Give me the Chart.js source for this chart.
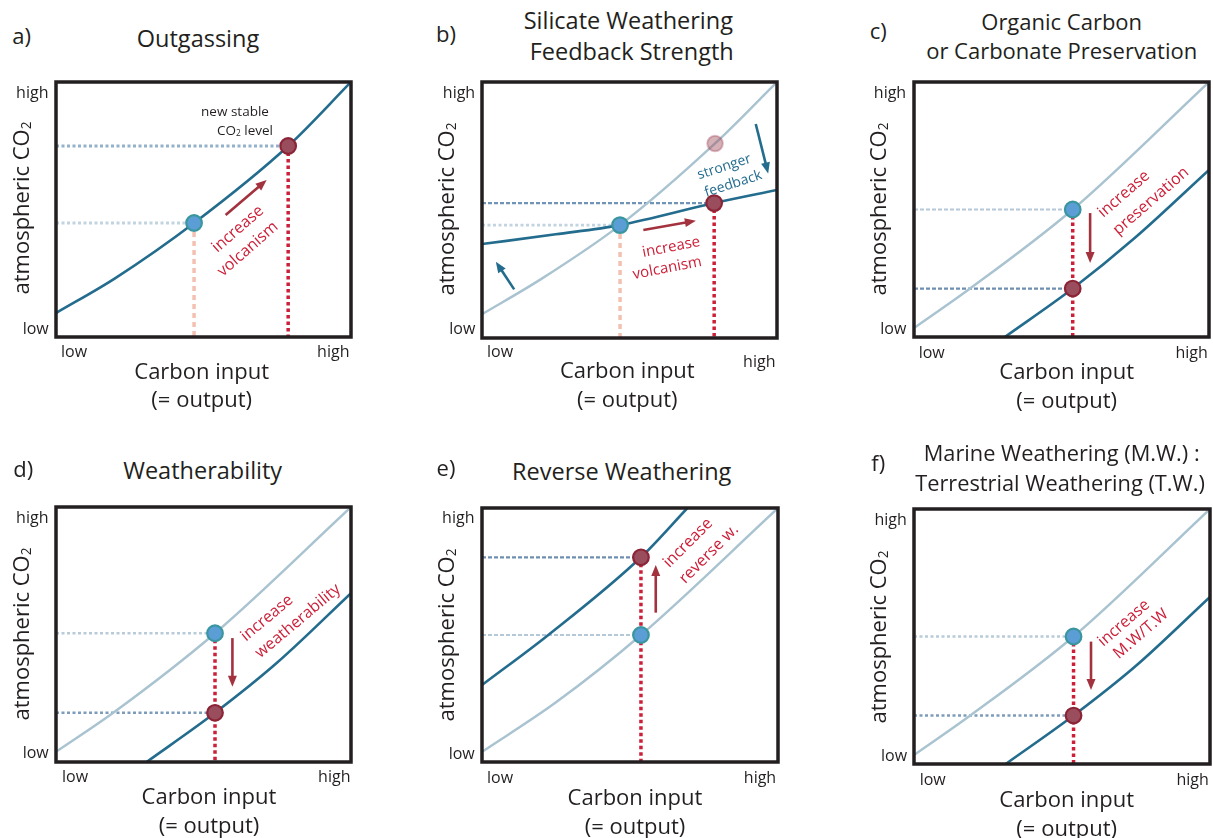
<!DOCTYPE html>
<html><head><meta charset="utf-8">
<script src="https://cdn.jsdelivr.net/npm/chart.js@4.4.1/dist/chart.umd.min.js"></script>
<style>
body{margin:0;background:#fff;width:1213px;height:838px;position:relative;overflow:hidden;font-family:"Open Sans",sans-serif;color:#231f20}
canvas{position:absolute}
.t{position:absolute;transform:translate(-50%,-50%);white-space:nowrap;line-height:1}
.s{font-size:.62em;vertical-align:-0.12em}
</style></head><body>
<script>
// ---- data (normalised: 0 = low, 1 = high) ----
const aCurve = [[0,0.094],[0.2,0.23],[0.468,0.447],[0.787,0.749],[1,1]];
const aStart = [0.468,0.447];
const aEnd   = [0.787,0.749];
const aArrows = [[0.575,0.478,0.714,0.616]];

const bOld = [[0,0.093],[0.2,0.23],[0.468,0.441],[0.79,0.76],[1,1]];
const bNew = [[0,0.367],[0.25,0.405],[0.468,0.441],[0.787,0.527],[1,0.578]];
const bStart = [0.468,0.441];
const bEnd   = [0.787,0.527];
const bGhost = [0.79,0.76];
const bArrows = [[0.547,0.422,0.725,0.458]];
const bFeedbackArrows = [[0.928,0.836,0.970,0.643],[0.109,0.190,0.047,0.298]];

const cOld = [[0,0.035],[0.19,0.19],[0.538,0.5],[1,1]];
const cNew = [[0.308,0],[0.538,0.19],[0.75,0.39],[1,0.655]];
const cStart = [0.538,0.5];
const cEnd   = [0.538,0.19];
const cArrows = [[0.597,0.486,0.597,0.29]];

const dOld = [[0,0.04],[0.194,0.193],[0.539,0.505],[1,1]];
const dNew = [[0.307,0],[0.539,0.193],[0.75,0.39],[1,0.662]];
const dStart = [0.539,0.505];
const dEnd   = [0.539,0.193];
const dArrows = [[0.598,0.486,0.598,0.295]];

const eOld = [[0,0.04],[0.25,0.235],[0.537,0.5],[1,1]];
const eNew = [[0,0.303],[0.224,0.5],[0.537,0.806],[0.694,1]];
const eStart = [0.537,0.5];
const eEnd   = [0.537,0.806];
const eArrows = [[0.587,0.588,0.587,0.776]];

const fOld = [[0,0.035],[0.19,0.19],[0.539,0.5],[1,1]];
const fNew = [[0.31,0],[0.539,0.19],[0.75,0.385],[1,0.655]];
const fStart = [0.539,0.5];
const fEnd   = [0.539,0.19];
const fArrows = [[0.598,0.48,0.598,0.29]];

// ---- styles ----
const DARK='#236c8e', LIGHT='#a9c3d0', RED='#cc1f38', SALMON='#f3c1b1', ARROW='#a3323f';
const BLUEPT={bg:'#5b9dd5',bd:'#3a969e'}, REDPT={bg:'#9a4d5c',bd:'#8b2436'};

const P = a => a.map(([x,y])=>({x,y}));
function curve(pts,color,w){return {data:P(pts),borderColor:color,borderWidth:w||2.6,showLine:true,pointRadius:0,cubicInterpolationMode:'monotone',order:5};}
function seg(x1,y1,x2,y2,color,w,dash){return {data:[{x:x1,y:y1},{x:x2,y:y2}],borderColor:color,borderWidth:w,borderDash:dash,showLine:true,pointRadius:0,order:8};}
function dot(p,st){return {data:[{x:p[0],y:p[1]}],pointRadius:7.8,pointHoverRadius:7.8,pointBackgroundColor:st.bg,pointBorderColor:st.bd,pointBorderWidth:2.2,showLine:false,order:1};}

const framePlugin={id:'frame',
  afterDatasetsDraw(ch,args,opts){
    const c=ch.ctx,xs=ch.scales.x,ys=ch.scales.y;
    (opts.arrows||[]).forEach(([x1,y1,x2,y2,col])=>{
      const X1=xs.getPixelForValue(x1),Y1=ys.getPixelForValue(y1),X2=xs.getPixelForValue(x2),Y2=ys.getPixelForValue(y2);
      const ang=Math.atan2(Y2-Y1,X2-X1),L=11,W=4.5;
      c.save();c.strokeStyle=col;c.fillStyle=col;c.lineWidth=2.6;
      c.beginPath();c.moveTo(X1,Y1);c.lineTo(X2-Math.cos(ang)*L*0.8,Y2-Math.sin(ang)*L*0.8);c.stroke();
      c.beginPath();c.moveTo(X2,Y2);
      c.lineTo(X2-Math.cos(ang)*L-Math.sin(ang)*W,Y2-Math.sin(ang)*L+Math.cos(ang)*W);
      c.lineTo(X2-Math.cos(ang)*L+Math.sin(ang)*W,Y2-Math.sin(ang)*L-Math.cos(ang)*W);
      c.closePath();c.fill();c.restore();
    });
  },
  afterDraw(ch){
    const c=ch.ctx,a=ch.chartArea;
    c.save();c.strokeStyle='#231f20';c.lineWidth=3.5;c.strokeRect(a.left,a.top,a.right-a.left,a.bottom-a.top);c.restore();
  }};

function makeChart(box,datasets,arrows){
  const M=14;
  const cv=document.createElement('canvas');
  const w=box[2]-box[0]+2*M,h=box[3]-box[1]+2*M;
  cv.width=w;cv.height=h;cv.style.left=(box[0]-M)+'px';cv.style.top=(box[1]-M)+'px';
  cv.style.width=w+'px';cv.style.height=h+'px';
  document.body.appendChild(cv);
  new Chart(cv,{type:'scatter',data:{datasets},
    options:{responsive:false,animation:false,devicePixelRatio:1,
      layout:{padding:M},
      scales:{x:{type:'linear',min:0,max:1,display:false},y:{type:'linear',min:0,max:1,display:false}},
      plugins:{legend:{display:false},tooltip:{enabled:false},frame:{arrows}}}},
    );
}
Chart.register(framePlugin);

// a) Outgassing
makeChart([56,82,351,337],[
  dot(aEnd,REDPT),dot(aStart,BLUEPT),
  curve(aCurve,DARK),
  seg(0,aStart[1],aStart[0],aStart[1],'#c3d4e1',2.8,[3,2.5]),
  seg(0,aEnd[1],aEnd[0],aEnd[1],'#93b1c9',2.8,[3,2.5]),
  seg(aStart[0],aStart[1],aStart[0],0,SALMON,3.5,[5,4]),
  seg(aEnd[0],aEnd[1],aEnd[0],0,RED,3.5,[3.5,3]),
],aArrows.map(a=>[...a,ARROW]));

// b) Silicate weathering feedback strength
makeChart([482,82,777,338],[
  dot(bEnd,REDPT),dot(bStart,BLUEPT),
  {data:P([bGhost]),pointRadius:7.8,pointBackgroundColor:'rgba(160,80,95,0.45)',pointBorderColor:'rgba(160,70,90,0.35)',pointBorderWidth:2,showLine:false,order:2},
  curve(bNew,DARK),curve(bOld,LIGHT,2.4),
  seg(0,bStart[1],bStart[0],bStart[1],'#c3d4e1',2.8,[3,2.5]),
  seg(0,bEnd[1],bEnd[0],bEnd[1],'#6f94b8',2.2,[4,2]),
  seg(bStart[0],bStart[1],bStart[0],0,SALMON,3.5,[5,4]),
  seg(bEnd[0],bEnd[1],bEnd[0],0,RED,3.5,[3.5,3]),
],[...bArrows.map(a=>[...a,ARROW]),...bFeedbackArrows.map(a=>[...a,DARK])]);

// c) Organic carbon or carbonate preservation
makeChart([914,82,1209,337],[
  dot(cEnd,REDPT),dot(cStart,BLUEPT),
  curve(cNew,DARK),curve(cOld,LIGHT,2.4),
  seg(0,cStart[1],cStart[0],cStart[1],'#b5c8d8',2.2,[4,2]),
  seg(0,cEnd[1],cEnd[0],cEnd[1],'#6f8fb0',2.2,[4,2]),
  seg(cStart[0],cStart[1],cStart[0],0,RED,3.5,[3.5,3]),
],cArrows.map(a=>[...a,ARROW]));

// d) Weatherability
makeChart([56,507,351,762],[
  dot(dEnd,REDPT),dot(dStart,BLUEPT),
  curve(dNew,DARK),curve(dOld,LIGHT,2.4),
  seg(0,dStart[1],dStart[0],dStart[1],'#b9cbd9',2.4,[3,2.5]),
  seg(0,dEnd[1],dEnd[0],dEnd[1],'#7d9cba',2.4,[3,2.5]),
  seg(dStart[0],dStart[1],dStart[0],0,RED,3.5,[3.5,3]),
],dArrows.map(a=>[...a,ARROW]));

// e) Reverse weathering
makeChart([482,508,778,762],[
  dot(eEnd,REDPT),dot(eStart,BLUEPT),
  curve(eNew,DARK),curve(eOld,LIGHT,2.4),
  seg(0,eStart[1],eStart[0],eStart[1],'#b5c8d8',2.2,[4,2]),
  seg(0,eEnd[1],eEnd[0],eEnd[1],'#6f8fb0',2.2,[4,2]),
  seg(eEnd[0],eEnd[1],eEnd[0],0,RED,3.5,[3.5,3]),
],eArrows.map(a=>[...a,ARROW]));

// f) Marine : terrestrial weathering
makeChart([914,509,1210,764],[
  dot(fEnd,REDPT),dot(fStart,BLUEPT),
  curve(fNew,DARK),curve(fOld,LIGHT,2.4),
  seg(0,fStart[1],fStart[0],fStart[1],'#b9cbd9',2.4,[3,2.5]),
  seg(0,fEnd[1],fEnd[0],fEnd[1],'#7d9cba',2.4,[3,2.5]),
  seg(fStart[0],fStart[1],fStart[0],0,RED,3.5,[3.5,3]),
],fArrows.map(a=>[...a,ARROW]));

// ---- text ----
const CO2='atmospheric CO<span class="s">2</span>';
const texts=[
 // panel a
 [21.7,35,'a)',22],[198,39,'Outgassing',23.5],
 [235,111.7,'new stable',13.5],[245,130.7,'CO<span class="s">2</span> level',13.5],
 [32.3,91.7,'high',16],[35.7,328,'low',16],[74,351,'low',16],[333.3,351,'high',16],
 [201.7,370,'Carbon input',22],[201.7,398.3,'(= output)',22],[21,208,CO2,22,null,-90],
 [237,228,'increase',16,RED,-41],[247,248,'volcanism',16,RED,-41],
 // panel b
 [446,33.3,'b)',22],[628.3,20.7,'Silicate Weathering',23.5],[631.7,51.7,'Feedback Strength',23.5],
 [459,92.3,'high',16],[462.3,328.3,'low',16],[500,351,'low',16],[759.3,361,'high',16],
 [627.3,369.3,'Carbon input',22],[627.3,398.3,'(= output)',22],[446,209,CO2,22,null,-90],
 [724,165.7,'stronger',14,DARK,-18],[732.7,183.3,'feedback',14,DARK,-18],
 [670.7,246,'increase',15,RED,-11],[667.3,266.7,'volcanism',15,RED,-11],
 // panel c
 [878.3,30,'c)',22],[1061.7,20.7,'Organic Carbon',22],[1061.7,50,'or Carbonate Preservation',22],
 [890,92.3,'high',16],[893.3,328.3,'low',16],[931.7,351.7,'low',16],[1191.7,351.7,'high',16],
 [1066.7,370,'Carbon input',22],[1066.7,399,'(= output)',22],[877.5,209,CO2,22,null,-90],
 [1123.3,193.3,'increase',16,RED,-41],[1150,200,'preservation',16,RED,-41],
 // panel d
 [23.3,468.3,'d)',22],[202.7,470.7,'Weatherability',23.5],
 [32.3,516.7,'high',16],[35.7,751.7,'low',16],[75,776,'low',16],[334.3,776,'high',16],
 [209,795,'Carbon input',22],[209,824,'(= output)',22],[21,634,CO2,22,null,-90],
 [266,616.7,'increase',16,RED,-40],[296.7,620,'weatherability',16,RED,-40],
 // panel e
 [446,466.7,'e)',22],[621.7,471.7,'Reverse Weathering',23.5],
 [458.3,517.3,'high',16],[461.7,752.7,'low',16],[500,776.7,'low',16],[760,776.7,'high',16],
 [635,796,'Carbon input',22],[635,825,'(= output)',22],[446,635,CO2,22,null,-90],
 [687.3,541.7,'increase',16,RED,-45],[708.3,553.3,'reverse w.',16,RED,-45],
 // panel f
 [878.3,461.7,'f)',22],[1061.7,453.3,'Marine Weathering (M.W.) :',21.8],[1060,482.7,'Terrestrial Weathering (T.W.)',21.8],
 [890.7,519.3,'high',16],[894,755,'low',16],[932.7,779.3,'low',16],[1192.7,779.3,'high',16],
 [1066.7,798.3,'Carbon input',22],[1066.7,826.7,'(= output)',22],[877.5,637,CO2,22,null,-90],
 [1123.3,621.7,'increase',16,RED,-41],[1140,633.3,'M.W/T.W',16,RED,-41],
];
texts.forEach(([x,y,s,size,color,rot])=>{
  const d=document.createElement('div');d.className='t';d.innerHTML=s;
  d.style.left=x+'px';d.style.top=y+'px';d.style.fontSize=size+'px';
  if(color)d.style.color=color;
  d.style.transform='translate(-50%,-50%)'+(rot?` rotate(${rot}deg)`:'');
  document.body.appendChild(d);
});
</script>
</body></html>
